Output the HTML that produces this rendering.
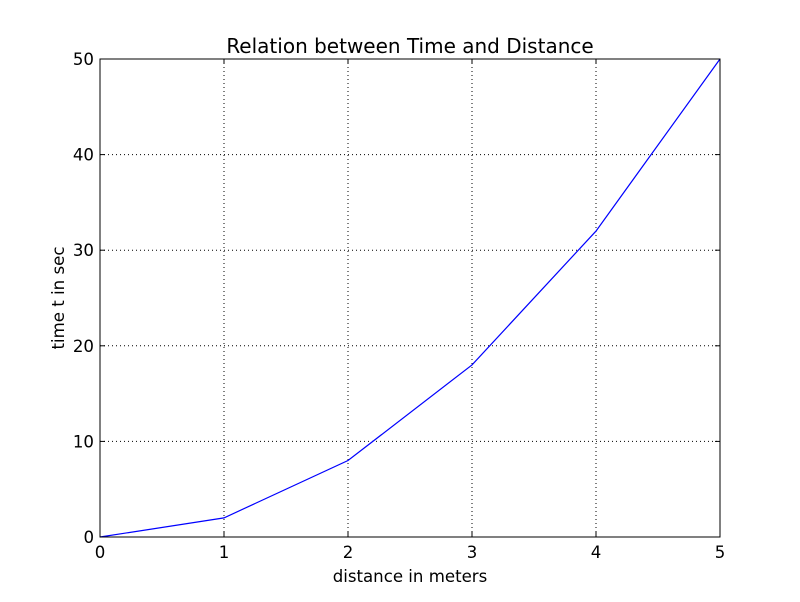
<!DOCTYPE html>
<html><head><meta charset="utf-8"><style>
html,body{margin:0;padding:0;background:#fff;}
svg text{font-family:"DejaVu Sans","Liberation Sans",sans-serif;}
</style></head><body>
<svg id="chart" width="800" height="597" viewBox="0 0 800 597" xmlns="http://www.w3.org/2000/svg">
<rect width="800" height="597" fill="#fff"/>
<g id="grid"></g>
<g id="ticks"></g>
<g id="series"></g>
<rect x="100" y="59" width="620" height="478" fill="none" stroke="#000" stroke-width="1"/>
<text x="410" y="53" font-size="20" text-anchor="middle">Relation between Time and Distance</text>
<text x="410" y="582" font-size="16.6" text-anchor="middle">distance in meters</text>
<text transform="translate(64,298) rotate(-90)" font-size="16.6" text-anchor="middle">time t in sec</text>
</svg>
<script>
const xValues = [0, 1, 2, 3, 4, 5];
const yValues = [0, 2, 8, 18, 32, 50];
const xTicks = [0, 1, 2, 3, 4, 5];
const yTicks = [0, 10, 20, 30, 40, 50];

const L = 100, R = 720, T = 59, B = 537;
const xMin = 0, xMax = 5, yMin = 0, yMax = 50;
function sx(v){ return L + (v - xMin) / (xMax - xMin) * (R - L); }
function sy(v){ return B - (v - yMin) / (yMax - yMin) * (B - T); }
const NS = "http://www.w3.org/2000/svg";
function mk(tag, attrs, parent){
  const e = document.createElementNS(NS, tag);
  for (const k in attrs) e.setAttribute(k, attrs[k]);
  parent.appendChild(e);
  return e;
}
const grid = document.getElementById('grid');
const ticks = document.getElementById('ticks');
const series = document.getElementById('series');

xTicks.forEach(function(t){
  const x = sx(t);
  if (t !== xMin && t !== xMax) {
    const g = mk('line', {x1:x, x2:x, y1:T, y2:B, stroke:'#000', 'stroke-width':1, 'stroke-dasharray':'1,3'}, grid);
    
    
  }
  const a = mk('line', {x1:x, x2:x, y1:B, y2:B-5, stroke:'#000'}, ticks);
  
  
  const b = mk('line', {x1:x, x2:x, y1:T, y2:T+5, stroke:'#000'}, ticks);
  
  
  const lbl = mk('text', {x:x, y:B+21, 'font-size':16.6, 'text-anchor':'middle'}, ticks);
  lbl.textContent = String(t);
  
  
});
yTicks.forEach(function(t){
  const y = sy(t);
  if (t !== yMin && t !== yMax) {
    const g = mk('line', {x1:L, x2:R, y1:y, y2:y, stroke:'#000', 'stroke-width':1, 'stroke-dasharray':'1,3'}, grid);
    
    
  }
  const a = mk('line', {x1:L, x2:L+5, y1:y, y2:y, stroke:'#000'}, ticks);
  
  
  const b = mk('line', {x1:R, x2:R-5, y1:y, y2:y, stroke:'#000'}, ticks);
  
  
  const lbl = mk('text', {x:L-6, y:y+6, 'font-size':16.6, 'text-anchor':'end'}, ticks);
  lbl.textContent = String(t);
  
  
});
const pts = xValues.map(function(v, i){ return sx(v) + ',' + sy(yValues[i]); }).join(' ');
const line = mk('polyline', {points:pts, fill:'none', stroke:'#0000ff', 'stroke-width':1.2}, series);


</script>
</body></html>
